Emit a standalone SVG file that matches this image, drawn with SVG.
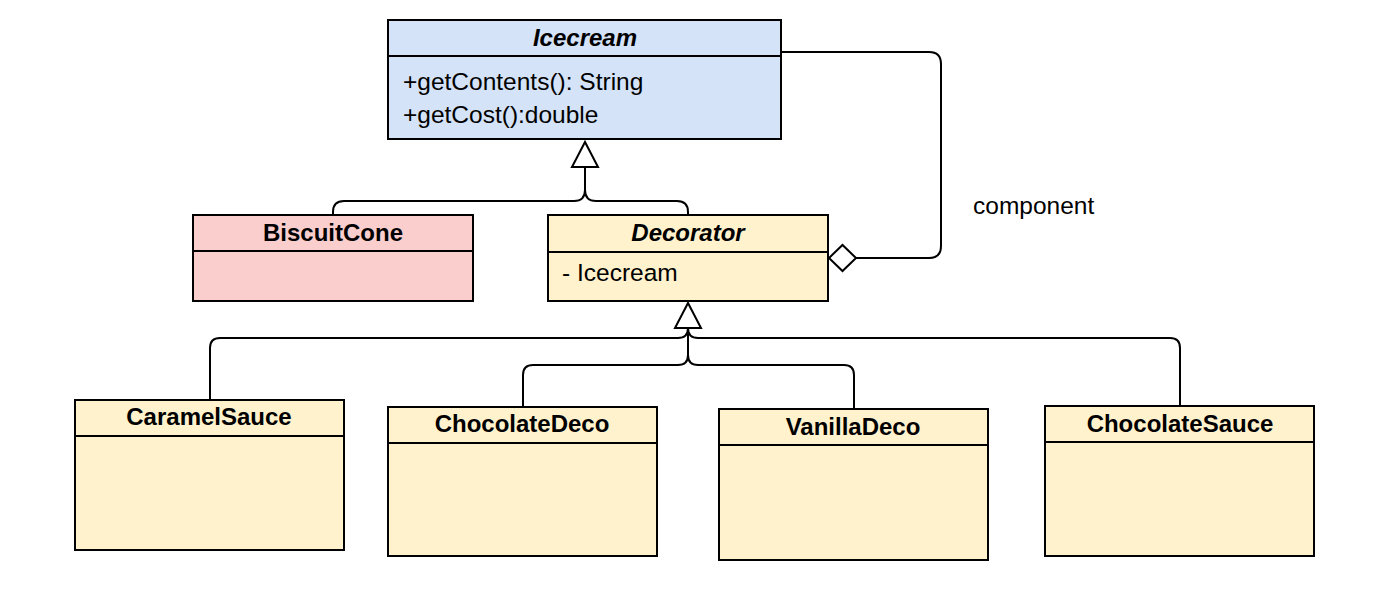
<svg xmlns="http://www.w3.org/2000/svg" width="1400" height="594" viewBox="0 0 1400 594">
<style>
.box{stroke:#000;stroke-width:2}
.blue{fill:#d4e3f7}
.red{fill:#f9cecc}
.yel{fill:#fff2cc}
.div{stroke:#000;stroke-width:2}
.t{font-family:"Liberation Sans",Arial,sans-serif;font-size:24.5px;fill:#000}
.b{font-weight:bold;text-anchor:middle;font-size:24px}
.i{font-style:italic}
.c{fill:none;stroke:#000;stroke-width:2}
.h{fill:#fff;stroke:#000;stroke-width:2}
</style>
<rect width="1400" height="594" fill="#fff"/>
<g id="connectors">
<path class="c" d="M585,166 V190 Q585,201 574,201 H344 Q333,201 333,212 V215"/>
<path class="c" d="M585,190 Q585,201 596,201 H677 Q688,201 688,212 V215"/>
<polygon class="h" points="585,142 572,167 598,167"/>
<path class="c" d="M688,328 V328 Q688,338 678,338 H220 Q210,338 210,348 V400"/>
<path class="c" d="M688,328 Q688,338 698,338 H1170 Q1180,338 1180,348 V406"/>
<path class="c" d="M688,328 V355 Q688,365 678,365 H533 Q523,365 523,375 V407"/>
<path class="c" d="M688,355 Q688,365 698,365 H844 Q854,365 854,375 V409"/>
<polygon class="h" points="688,303 675,328 701,328"/>
<path class="c" d="M781,52 H929 Q941,52 941,64 V246 Q941,258 929,258 H856"/>
<polygon class="h" points="856,258 842.5,245 829,258 842.5,271"/>
<text class="t" x="973" y="214">component</text>
</g>
<g id="Icecream">
<rect class="box blue" x="388" y="20" width="393" height="119"/>
<line class="div" x1="388" y1="56" x2="781" y2="56"/>
<text class="t b i" x="585" y="46">Icecream</text>
<text class="t" x="403" y="90">+getContents(): String</text>
<text class="t" x="403" y="123">+getCost():double</text>
</g>
<g id="BiscuitCone">
<rect class="box red" x="193" y="215" width="280" height="86"/>
<line class="div" x1="193" y1="251" x2="473" y2="251"/>
<text class="t b" x="333" y="241">BiscuitCone</text>
</g>
<g id="Decorator">
<rect class="box yel" x="548" y="215" width="280" height="86"/>
<line class="div" x1="548" y1="252" x2="828" y2="252"/>
<text class="t b i" x="688" y="241">Decorator</text>
<text class="t" x="562" y="281">- Icecream</text>
</g>
<g id="CaramelSauce">
<rect class="box yel" x="75" y="400" width="269" height="150"/>
<line class="div" x1="75" y1="436" x2="344" y2="436"/>
<text class="t b" x="209" y="425">CaramelSauce</text>
</g>
<g id="ChocolateDeco">
<rect class="box yel" x="388" y="407" width="269" height="149"/>
<line class="div" x1="388" y1="443" x2="657" y2="443"/>
<text class="t b" x="522" y="432">ChocolateDeco</text>
</g>
<g id="VanillaDeco">
<rect class="box yel" x="719" y="409" width="269" height="151"/>
<line class="div" x1="719" y1="445" x2="988" y2="445"/>
<text class="t b" x="853" y="435">VanillaDeco</text>
</g>
<g id="ChocolateSauce">
<rect class="box yel" x="1045" y="406" width="269" height="150"/>
<line class="div" x1="1045" y1="442" x2="1314" y2="442"/>
<text class="t b" x="1180" y="432">ChocolateSauce</text>
</g>
</svg>
